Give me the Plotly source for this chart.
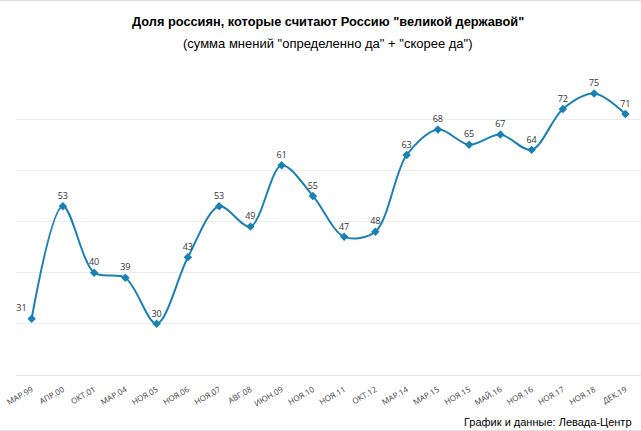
import plotly.graph_objects as go

categories = ["МАР.99", "АПР.00", "ОКТ.01", "МАР.04", "НОЯ.05", "НОЯ.06", "НОЯ.07", "АВГ.08",
              "ИЮН.09", "НОЯ.10", "НОЯ.11", "ОКТ.12", "МАР.14", "МАР.15", "НОЯ.15", "МАЙ.16",
              "НОЯ.16", "НОЯ.17", "НОЯ.18", "ДЕК.19"]
values = [31, 53, 40, 39, 30, 43, 53, 49, 61, 55, 47, 48, 63, 68, 65, 67, 64, 72, 75, 71]
label_positions = ["top left"] + ["top center"] * (len(values) - 1)

title_text = "<b>Доля россиян, которые считают Россию \"великой державой\"</b>"
subtitle_text = "(сумма мнений \"определенно да\" + \"скорее да\")"
source_text = "График и данные: Левада-Центр"

line_color = "#1b80b3"

fig = go.Figure()
fig.add_trace(go.Scatter(
    x=categories, y=values,
    mode="lines+markers+text",
    line=dict(color=line_color, width=2, shape="spline", smoothing=0.9),
    marker=dict(symbol="diamond", size=6.5, color=line_color),
    text=[str(v) for v in values],
    textposition=label_positions,
    textfont=dict(family="Open Sans", size=9, color="#333333"),
    cliponaxis=False,
    hoverinfo="skip",
))

T, B, L, R = 68, 56, 16, 0
H, W = 431, 641
ph = H - T - B

fig.update_layout(
    width=W, height=H,
    margin=dict(t=T, b=B, l=L, r=R, pad=0),
    paper_bgcolor="white", plot_bgcolor="white",
    showlegend=False,
    font=dict(family="Liberation Sans, Arial", color="#000"),
    xaxis=dict(
        type="category", range=[-0.5, len(categories) - 0.5],
        showgrid=False, showline=True, linecolor="#e6e6e6", linewidth=1,
        ticks="", tickangle=-30, ticklabelstandoff=6,
        tickfont=dict(family="Open Sans", size=8, color="#404040"),
        fixedrange=True,
    ),
    yaxis=dict(
        range=[20, 80], dtick=10, showgrid=True, gridcolor="#ececec", gridwidth=1,
        showticklabels=False, zeroline=False, showline=False, ticks="",
        fixedrange=True,
    ),
)

fig.add_annotation(text=title_text, xref="paper", yref="paper",
                   x=(328 - L) / (W - L - R), y=(H - B - 22) / ph, xanchor="center", yanchor="middle",
                   showarrow=False, font=dict(family="Liberation Sans, Arial", size=12.8, color="#000"))
fig.add_annotation(text=subtitle_text, xref="paper", yref="paper",
                   x=(328 - L) / (W - L - R), y=(H - B - 44) / ph, xanchor="center", yanchor="middle",
                   showarrow=False, font=dict(family="Liberation Sans, Arial", size=13, color="#000"))
fig.add_annotation(text=source_text, xref="paper", yref="paper",
                   x=(634 - L) / (W - L - R), y=(H - B - 422) / ph, xanchor="right", yanchor="middle",
                   showarrow=False, font=dict(family="Liberation Sans, Arial", size=11, color="#000"))

# thin frame lines at top and bottom of the image
for py in (0.5, 430.5):
    yy = (H - B - py) / ph
    fig.add_shape(type="line", xref="paper", yref="paper",
                  x0=-L / (W - L - R), x1=1, y0=yy, y1=yy,
                  line=dict(color="#e0e0e0", width=1))

fig.write_html("out.html")
